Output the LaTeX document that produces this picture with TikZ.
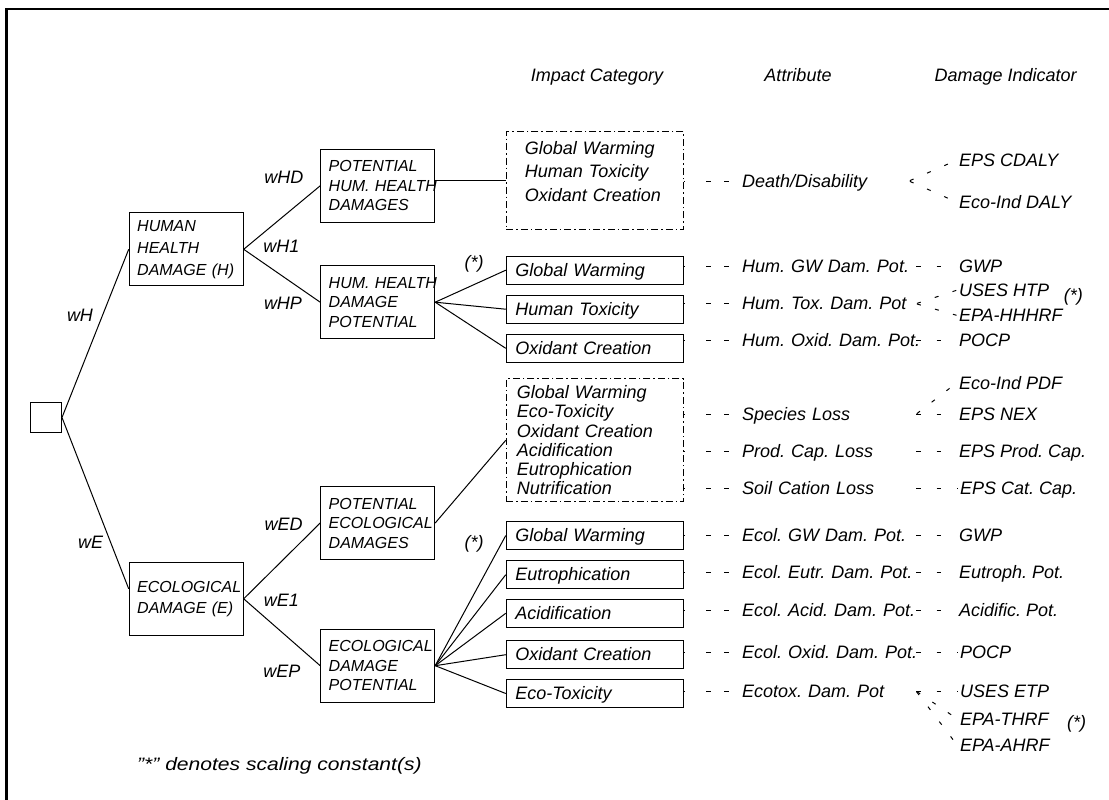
\documentclass[tikz,border=0pt]{standalone}
\usepackage{fontspec}
\setmainfont{Liberation Sans}
\usetikzlibrary{positioning,calc}
\hyphenpenalty=10000
\exhyphenpenalty=10000
\frenchspacing

\begin{document}
\begin{tikzpicture}[x=1pt,y=-1pt,line width=1pt,
    font=\fontsize{18}{21.6}\selectfont\itshape,
    dbox/.style={draw, minimum width=114pt, minimum height=73pt, text width=98pt, inner xsep=8pt, align=left, font=\fontsize{16}{19.5}\selectfont\itshape},
    ibox/.style={draw, minimum width=177.5pt, minimum height=28pt, text width=159.5pt, inner xsep=9pt, align=left, text height=13pt, text depth=1pt},
    gbox/.style={draw, dash pattern=on 7pt off 3pt on 1.5pt off 3pt, align=left},
    attr/.style={anchor=base west, inner sep=2pt, text width=200pt, align=left, text height=13pt, text depth=1pt},
    ind/.style={anchor=base west, inner sep=2pt, text height=13pt, text depth=1pt},
    lab/.style={anchor=base, inner sep=0pt},
    ldsh/.style={dash pattern=on 1pt off 21pt on 4.5pt off 13.5pt on 4.5pt off 20pt},
    rdsh/.style={dash pattern=on 4.5pt off 16pt},
    fan/.style={dash pattern=on 4pt off 14.7pt, dash phase=17.7pt}]
    \useasboundingbox (0,0) rectangle (1109,800);
    \draw [line width=2.2pt] (6.5,800) -- (6.5,9) -- (1109,9);

    \node (hdr1) [lab] at (597,81.3) {Impact Category};
    \node (hdr2) [lab] at (798,81.3) {Attribute};
    \node (hdr3) [lab] at (1005.7,81.3) {Damage Indicator};

    \node (root) [draw, minimum width=31pt, minimum height=30pt, inner sep=0pt] at (46,417.5) {};
    \node (human) [dbox, font=\fontsize{16}{22}\selectfont\itshape] at (186.2,249.3) {HUMAN\\HEALTH\\DAMAGE (H)};
    \node (eco) [dbox, font=\fontsize{16}{20.6}\selectfont\itshape] at (186.2,598.8) {ECOLOGICAL\\DAMAGE (E)};
    \node (hdam) [dbox] at (377.7,185.8) {POTENTIAL\\HUM.~HEALTH\\DAMAGES};
    \node (hpot) [dbox] at (377.7,302.2) {HUM.~HEALTH\\DAMAGE\\POTENTIAL};
    \node (edam) [dbox] at (377.7,523) {POTENTIAL\\ECOLOGICAL\\DAMAGES};
    \node (epot) [dbox] at (377.7,665.7) {ECOLOGICAL\\DAMAGE\\POTENTIAL};

    \node (hcat) [gbox, minimum height=97.6pt, text width=140.1pt, inner xsep=18.7pt, font=\fontsize{18}{23.2}\selectfont\itshape] at (595,180.5) {Global Warming\\Human Toxicity\\Oxidant Creation\\[-5pt]\mbox{}};
    \node (hgw) [ibox] at (595,270.2) {Global Warming};
    \node (hht) [ibox] at (595,309.2) {Human Toxicity};
    \node (hoc) [ibox] at (595,348.3) {Oxidant Creation};
    \node (ecat) [gbox, minimum height=122.7pt, text width=156.1pt, inner xsep=10.7pt, font=\fontsize{18}{19.2}\selectfont\itshape] at (595,440.3) {Global Warming\\Eco-Toxicity\\Oxidant Creation\\Acidification\\Eutrophication\\Nutrification};
    \node (egw) [ibox] at (595,535.5) {Global Warming};
    \node (eeu) [ibox] at (595,574.7) {Eutrophication};
    \node (eac) [ibox] at (595,613.3) {Acidification};
    \node (eoc) [ibox] at (595,654.7) {Oxidant Creation};
    \node (eet) [ibox] at (595,693.5) {Eco-Toxicity};

    \node (dd) [attr] at (739.5,187) {Death/Disability};
    \node (hgwa) [attr] at (739.5,272.3) {Hum. GW Dam. Pot.};
    \node (hhta) [attr] at (739.5,309.7) {Hum. Tox. Dam. Pot};
    \node (hoca) [attr] at (739.5,346.3) {Hum. Oxid. Dam. Pot.};
    \node (sla) [attr] at (739.5,420.3) {Species Loss};
    \node (pca) [attr] at (739.5,457) {Prod. Cap. Loss};
    \node (sca) [attr] at (739.5,494) {Soil Cation Loss};
    \node (egwa) [attr] at (739.5,541.3) {Ecol. GW Dam. Pot.};
    \node (eeua) [attr] at (739.5,578.3) {Ecol. Eutr. Dam. Pot.};
    \node (eaca) [attr] at (739.5,616.3) {Ecol. Acid. Dam. Pot.};
    \node (eoca) [attr] at (739.5,658.7) {Ecol. Oxid. Dam. Pot.};
    \node (eeta) [attr] at (739.5,697) {Ecotox. Dam. Pot};

    \node (cdaly) [ind] at (956.5,166.3) {EPS CDALY};
    \node (idaly) [ind] at (956.5,208) {Eco-Ind DALY};
    \node (gwpA) [ind] at (956.5,272.3) {GWP};
    \node (htp) [ind] at (956.5,296.3) {USES HTP};
    \node (hhhrf) [ind] at (956.5,321.3) {EPA-HHHRF};
    \node (pocpA) [ind] at (956.5,346.3) {POCP};
    \node (ipdf) [ind] at (956.5,389) {Eco-Ind PDF};
    \node (nex) [ind] at (956.5,420.3) {EPS NEX};
    \node (prodcap) [ind] at (956.5,457) {EPS Prod. Cap.};
    \node (catcap) [ind] at (957.5,494) {EPS Cat. Cap.};
    \node (gwpB) [ind] at (956.5,541.3) {GWP};
    \node (eutpot) [ind] at (956.5,578.3) {Eutroph. Pot.};
    \node (acpot) [ind] at (956.5,616.3) {Acidific. Pot.};
    \node (pocpB) [ind] at (957.5,658.7) {POCP};
    \node (etp) [ind] at (957.5,697) {USES ETP};
    \node (thrf) [ind] at (957.5,725) {EPA-THRF};
    \node (ahrf) [ind] at (957.5,751.5) {EPA-AHRF};

    \node (wH) [lab] at (80,321.5) {wH};
    \node (wE) [lab] at (90.7,548) {wE};
    \node (wHD) [lab] at (283.9,183) {wHD};
    \node (wHone) [lab] at (281.3,252) {wH1};
    \node (wHP) [lab] at (283,309) {wHP};
    \node (wED) [lab] at (283.6,530.5) {wED};
    \node (wEone) [lab] at (281.3,606.5) {wE1};
    \node (wEP) [lab] at (282,677) {wEP};
    \node (sc1) [lab] at (474,268.7) {(*)};
    \node (sc2) [lab] at (474,548.7) {(*)};
    \node (sc3) [lab] at (1073.3,301) {(*)};
    \node (sc4) [lab] at (1076.7,728.7) {(*)};
    \node (note) [anchor=base west, inner sep=0pt] at (136.7,770) {\scalebox{1.17}[1]{"*" denotes scaling constant(s)}};

    \draw (root.east) -- (human.west);
    \draw (root.east) -- ([yshift=10pt]eco.west);
    \draw (human.east) -- (hdam.west);
    \draw (human.east) -- (hpot.west);
    \draw (eco.east) -- (edam.west);
    \draw (eco.east) -- (epot.west);
    \draw (hdam.east |- hcat.west) -- (hcat.west);
    \draw (hpot.east) -- (hgw.west);
    \draw (hpot.east) -- (hht.west);
    \draw (hpot.east) -- (hoc.west);
    \draw (edam.east) -- (ecat.west);
    \draw (epot.east) -- (egw.west);
    \draw (epot.east) -- (eeu.west);
    \draw (epot.east) -- (eac.west);
    \draw (epot.east) -- (eoc.west);
    \draw (epot.east) -- (eet.west);

    \draw [ldsh] (hcat.east |- dd.west) -- (dd.west);
    \draw [ldsh] (hgw.east |- hgwa.west) -- (hgwa.west);
    \draw [ldsh] (hht.east |- hhta.west) -- (hhta.west);
    \draw [ldsh] (hoc.east |- hoca.west) -- (hoca.west);
    \draw [ldsh] (ecat.east |- sla.west) -- (sla.west);
    \draw [ldsh] (ecat.east |- pca.west) -- (pca.west);
    \draw [ldsh] (ecat.east |- sca.west) -- (sca.west);
    \draw [ldsh] (egw.east |- egwa.west) -- (egwa.west);
    \draw [ldsh] (eeu.east |- eeua.west) -- (eeua.west);
    \draw [ldsh] (eac.east |- eaca.west) -- (eaca.west);
    \draw [ldsh] (eoc.east |- eoca.west) -- (eoca.west);
    \draw [ldsh] (eet.east |- eeta.west) -- (eeta.west);

    \draw [fan] ([xshift=169.5pt]dd.west) -- (cdaly.west);
    \draw [fan] ([xshift=169.5pt]dd.west) -- (idaly.west);
    \draw [rdsh] ([xshift=176.5pt]hgwa.west) -- (gwpA.west);
    \draw [fan] ([xshift=176.5pt]hhta.west) -- (htp.west);
    \draw [fan] ([xshift=176.5pt]hhta.west) -- (hhhrf.west);
    \draw [rdsh] ([xshift=176.5pt]hoca.west) -- (pocpA.west);
    \draw [fan] ([xshift=176.5pt]sla.west) -- (ipdf.west);
    \draw [rdsh] ([xshift=176.5pt]sla.west) -- (nex.west);
    \draw [rdsh] ([xshift=176.5pt]pca.west) -- (prodcap.west);
    \draw [rdsh] ([xshift=176.5pt]sca.west) -- (catcap.west);
    \draw [rdsh] ([xshift=176.5pt]egwa.west) -- (gwpB.west);
    \draw [rdsh] ([xshift=176.5pt]eeua.west) -- (eutpot.west);
    \draw [rdsh] ([xshift=176.5pt]eaca.west) -- (acpot.west);
    \draw [rdsh] ([xshift=176.5pt]eoca.west) -- (pocpB.west);
    \draw [rdsh] ([xshift=176.5pt]eeta.west) -- (etp.west);
    \draw [fan] ([xshift=176.5pt]eeta.west) -- (thrf.west);
    \draw [fan] ([xshift=176.5pt]eeta.west) -- (ahrf.west);
\end{tikzpicture}
\end{document}
